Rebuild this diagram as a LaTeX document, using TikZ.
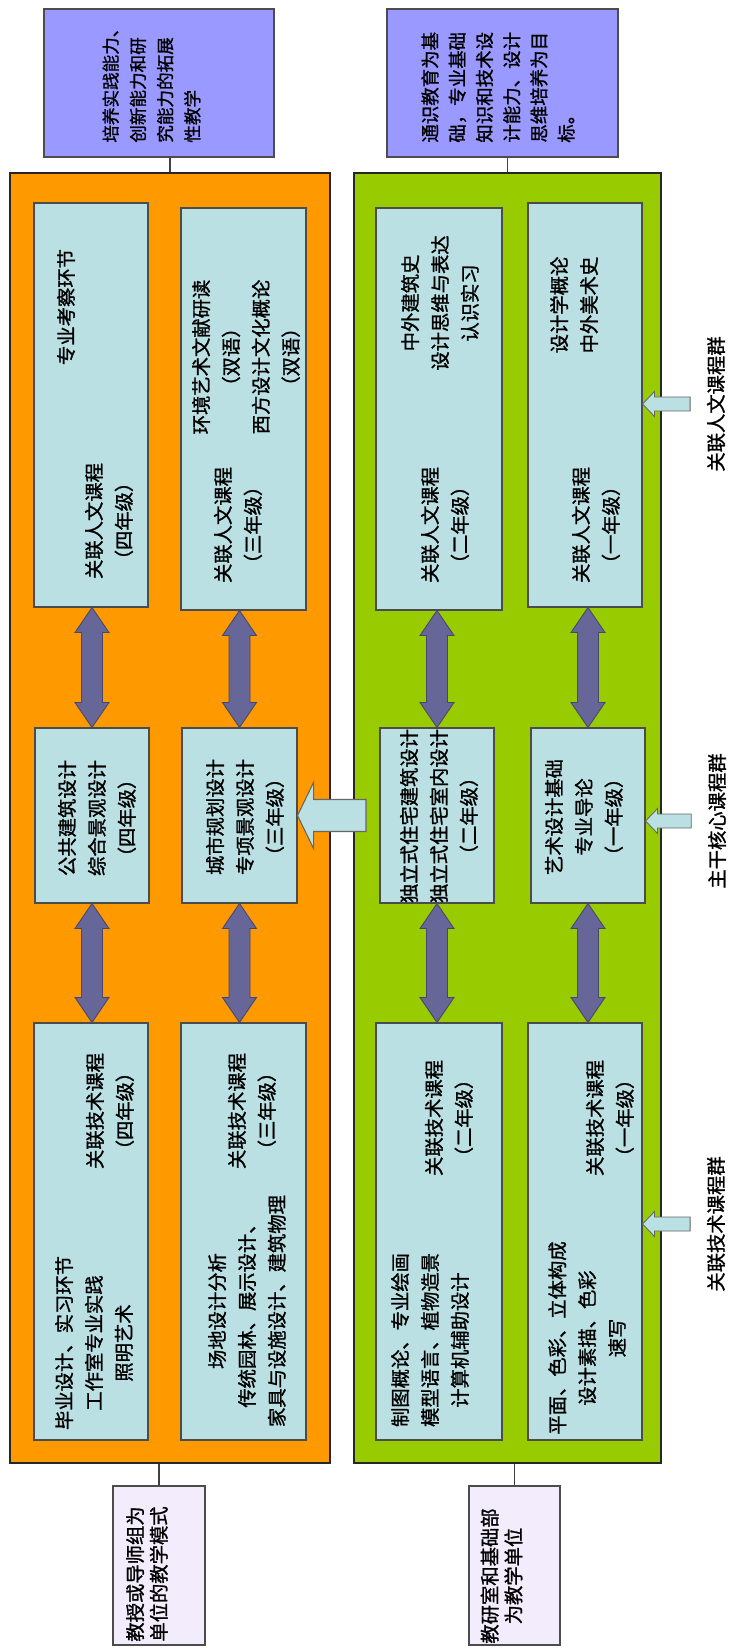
\documentclass[tikz,border=0pt]{standalone}
\usepackage{fontspec}
\newfontfamily\cjk[FakeBold=1.2]{Noto Sans CJK SC}
\usetikzlibrary{calc,fit}

\definecolor{advorange}{HTML}{FF9900}
\definecolor{basegreen}{HTML}{99CC00}
\definecolor{courseblue}{HTML}{BBE0E3}
\definecolor{goalpurple}{HTML}{9999FF}
\definecolor{unitlilac}{HTML}{F3ECFC}
\definecolor{linkslate}{HTML}{666699}

\tikzset{
  panel/.style={draw=black!85, line width=0.7pt, inner sep=0pt},
  course/.style={draw=black!70, fill=courseblue, line width=0.6pt, inner sep=0pt},
  goal/.style={draw=black!70, fill=goalpurple, line width=0.6pt, inner sep=0pt},
  unit/.style={draw=black!70, fill=unitlilac, line width=0.6pt, inner sep=0pt},
  txt/.style={rotate=90, align=center, inner sep=0pt, font=\cjk\fontsize{11}{17}\selectfont},
  goaltxt/.style={rotate=90, align=left, inner sep=0pt},
  unittxt/.style={rotate=90, align=center, inner sep=0pt, font=\cjk\fontsize{11}{13.5}\selectfont},
  grouplab/.style={rotate=90, inner sep=2pt, font=\cjk\fontsize{11}{13}\selectfont},
  tie/.style={draw=black!75, line width=0.7pt},
  dbl/.style={fill=linkslate, draw=linkslate!70!black, line width=0.5pt},
  bigarr/.style={fill=courseblue, draw=black!60, line width=0.6pt},
  sarr/.style={fill=courseblue, draw=black!60, line width=0.5pt}
}

\newcommand{\linkarrow}[3]{%
  \draw[dbl] let \p1=(#1.south), \p2=(#2.north), \p3=(#3.center) in
    (\x3,\y1) -- ++(17,25) -- ++(-6.5,0) -- ($(\x3,\y2)+(10.5,-25)$) -- ++(6.5,0) -- (\x3,\y2)
    -- ++(-17,-25) -- ++(6.5,0) -- ($(\x3,\y1)+(-10.5,25)$) -- ++(-6.5,0) -- cycle;}
\newcommand{\grouparrow}[2]{%
  \draw[sarr] let \p1=(#2.north), \p2=(#1.east) in
    (\x2,\y1) -- ++(12,-12.5) -- ++(0,5.5) -- ($(\x1,\y1)+(-13,-7)$) -- ++(0,14)
    -- ($(\x2,\y1)+(12,7)$) -- ++(0,5.5) -- cycle;}

\begin{document}
\begin{tikzpicture}[x=0.02cm, y=-0.02cm]
\useasboundingbox (0,0) rectangle (728,1648);
\clip (0,0) rectangle (728,1648);

\node[panel, fill=advorange, fit={(10,173) (330,1463)}] (advpanel) {};
\node[panel, fill=basegreen, fit={(354,173) (661,1463)}] (basepanel) {};

\node[goal, fit={(44,9) (274,157)}] (advgoal) {};
\node[goal, fit={(387,9) (618,157)}] (basegoal) {};
\node[unit, fit={(113,1486) (205,1645)}] (advunit) {};
\node[unit, fit={(469,1486) (560,1645)}] (baseunit) {};

\draw[tie] (advpanel.north) -- (advpanel.north |- advgoal.south);
\draw[tie] (basepanel.north) -- (basepanel.north |- basegoal.south);
\draw[tie] (advunit.north) -- (advunit.north |- advpanel.south);
\draw[tie] (baseunit.north) -- (baseunit.north |- basepanel.south);

\node[goaltxt, font=\cjk\fontsize{10}{15.5}\selectfont, anchor=west] (advgoaltxt) at (151.5,143)
  {培养实践能力、\\创新能力和研\\究能力的拓展\\性教学};
\node[goaltxt, font=\cjk\fontsize{10.5}{15.5}\selectfont, anchor=west] (basegoaltxt) at (498,143)
  {通识教育为基\\础，专业基础\\知识和技术设\\计能力、设计\\思维培养为目\\标。};

\node[unittxt] (advunittxt) at (147,1574) {教授或导师组为\\单位的教学模式};
\node[unittxt] (baseunittxt) at (501.5,1576) {教研室和基础部\\为教学单位};

\node[course, fit={(34,203) (148,607)}] (hum4) {};
\node[course, fit={(181,208) (306,610)}] (hum3) {};
\node[course, fit={(376,208) (502,610)}] (hum2) {};
\node[course, fit={(528,203) (642,607)}] (hum1) {};

\node[course, fit={(35,728) (149,903)}] (core4) {};
\node[course, fit={(182,728) (297,903)}] (core3) {};
\node[course, fit={(380,728) (494,903)}] (core2) {};
\node[course, fit={(531,728) (645,903)}] (core1) {};

\node[course, fit={(34,1023) (148,1440)}] (tech4) {};
\node[course, fit={(181,1023) (306,1440)}] (tech3) {};
\node[course, fit={(376,1023) (502,1440)}] (tech2) {};
\node[course, fit={(528,1023) (642,1440)}] (tech1) {};

\node[txt] (hum4a) at (66,307) {专业考察环节};
\node[txt] (hum4b) at (109,521) {关联人文课程\\（四年级）};
\node[txt] (hum3a) at (246,357) {环境艺术文献研读\\（双语）\\西方设计文化概论\\（双语）};
\node[txt] (hum3b) at (238,525) {关联人文课程\\（三年级）};
\node[txt] (hum2a) at (440,303) {中外建筑史\\设计思维与表达\\认识实习};
\node[txt] (hum2b) at (445,525) {关联人文课程\\（二年级）};
\node[txt] (hum1a) at (574,305) {设计学概论\\中外美术史};
\node[txt] (hum1b) at (596,525) {关联人文课程\\（一年级）};

\node[txt] (core4t) at (97,818) {公共建筑设计\\综合景观设计\\（四年级）};
\node[txt] (core3t) at (245,817) {城市规划设计\\专项景观设计\\（三年级）};
\node[txt] (core2t) at (439,816) {独立式住宅建筑设计\\独立式住宅室内设计\\（二年级）};
\node[txt] (core1t) at (584,817) {艺术设计基础\\专业导论\\（一年级）};

\node[txt] (tech4a) at (110,1111) {关联技术课程\\（四年级）};
\node[txt] (tech4b) at (94,1343) {毕业设计、实习环节\\工作室专业实践\\照明艺术};
\node[txt] (tech3a) at (252,1111) {关联技术课程\\（三年级）};
\node[txt] (tech3b) at (247,1311) {场地设计分析\\传统园林、展示设计、\\家具与设施设计、建筑物理};
\node[txt] (tech2a) at (449,1118) {关联技术课程\\（二年级）};
\node[txt] (tech2b) at (430,1340) {制图概论、专业绘画\\模型语言、植物造景\\计算机辅助设计};
\node[txt] (tech1a) at (610,1118) {关联技术课程\\（一年级）};
\node[txt] (tech1b) at (587,1338) {平面、色彩、立体构成\\设计素描、色彩\\速写};

\linkarrow{hum4}{core4}{core4}
\linkarrow{hum3}{core3}{core3}
\linkarrow{hum2}{core2}{core2}
\linkarrow{hum1}{core1}{core1}
\linkarrow{core4}{tech4}{core4}
\linkarrow{core3}{tech3}{core3}
\linkarrow{core2}{tech2}{core2}
\linkarrow{core1}{tech1}{core1}

\coordinate (bigtail) at (366,816);
\draw[bigarr] let \p1=(core3.east), \p2=(bigtail) in
  (\p1) -- ++(16,-33) -- ++(0,17) -- ($(\x2,\y1)+(0,-16)$) -- ++(0,32)
  -- ($(\p1)+(16,16)$) -- ++(0,17) -- cycle;

\node[grouplab] (humlab) at (716,404) {关联人文课程群};
\node[grouplab] (corelab) at (717,821) {主干核心课程群};
\node[grouplab] (techlab) at (716,1224) {关联技术课程群};

\grouparrow{hum1}{humlab}
\grouparrow{core1}{corelab}
\grouparrow{tech1}{techlab}
\end{tikzpicture}
\end{document}
